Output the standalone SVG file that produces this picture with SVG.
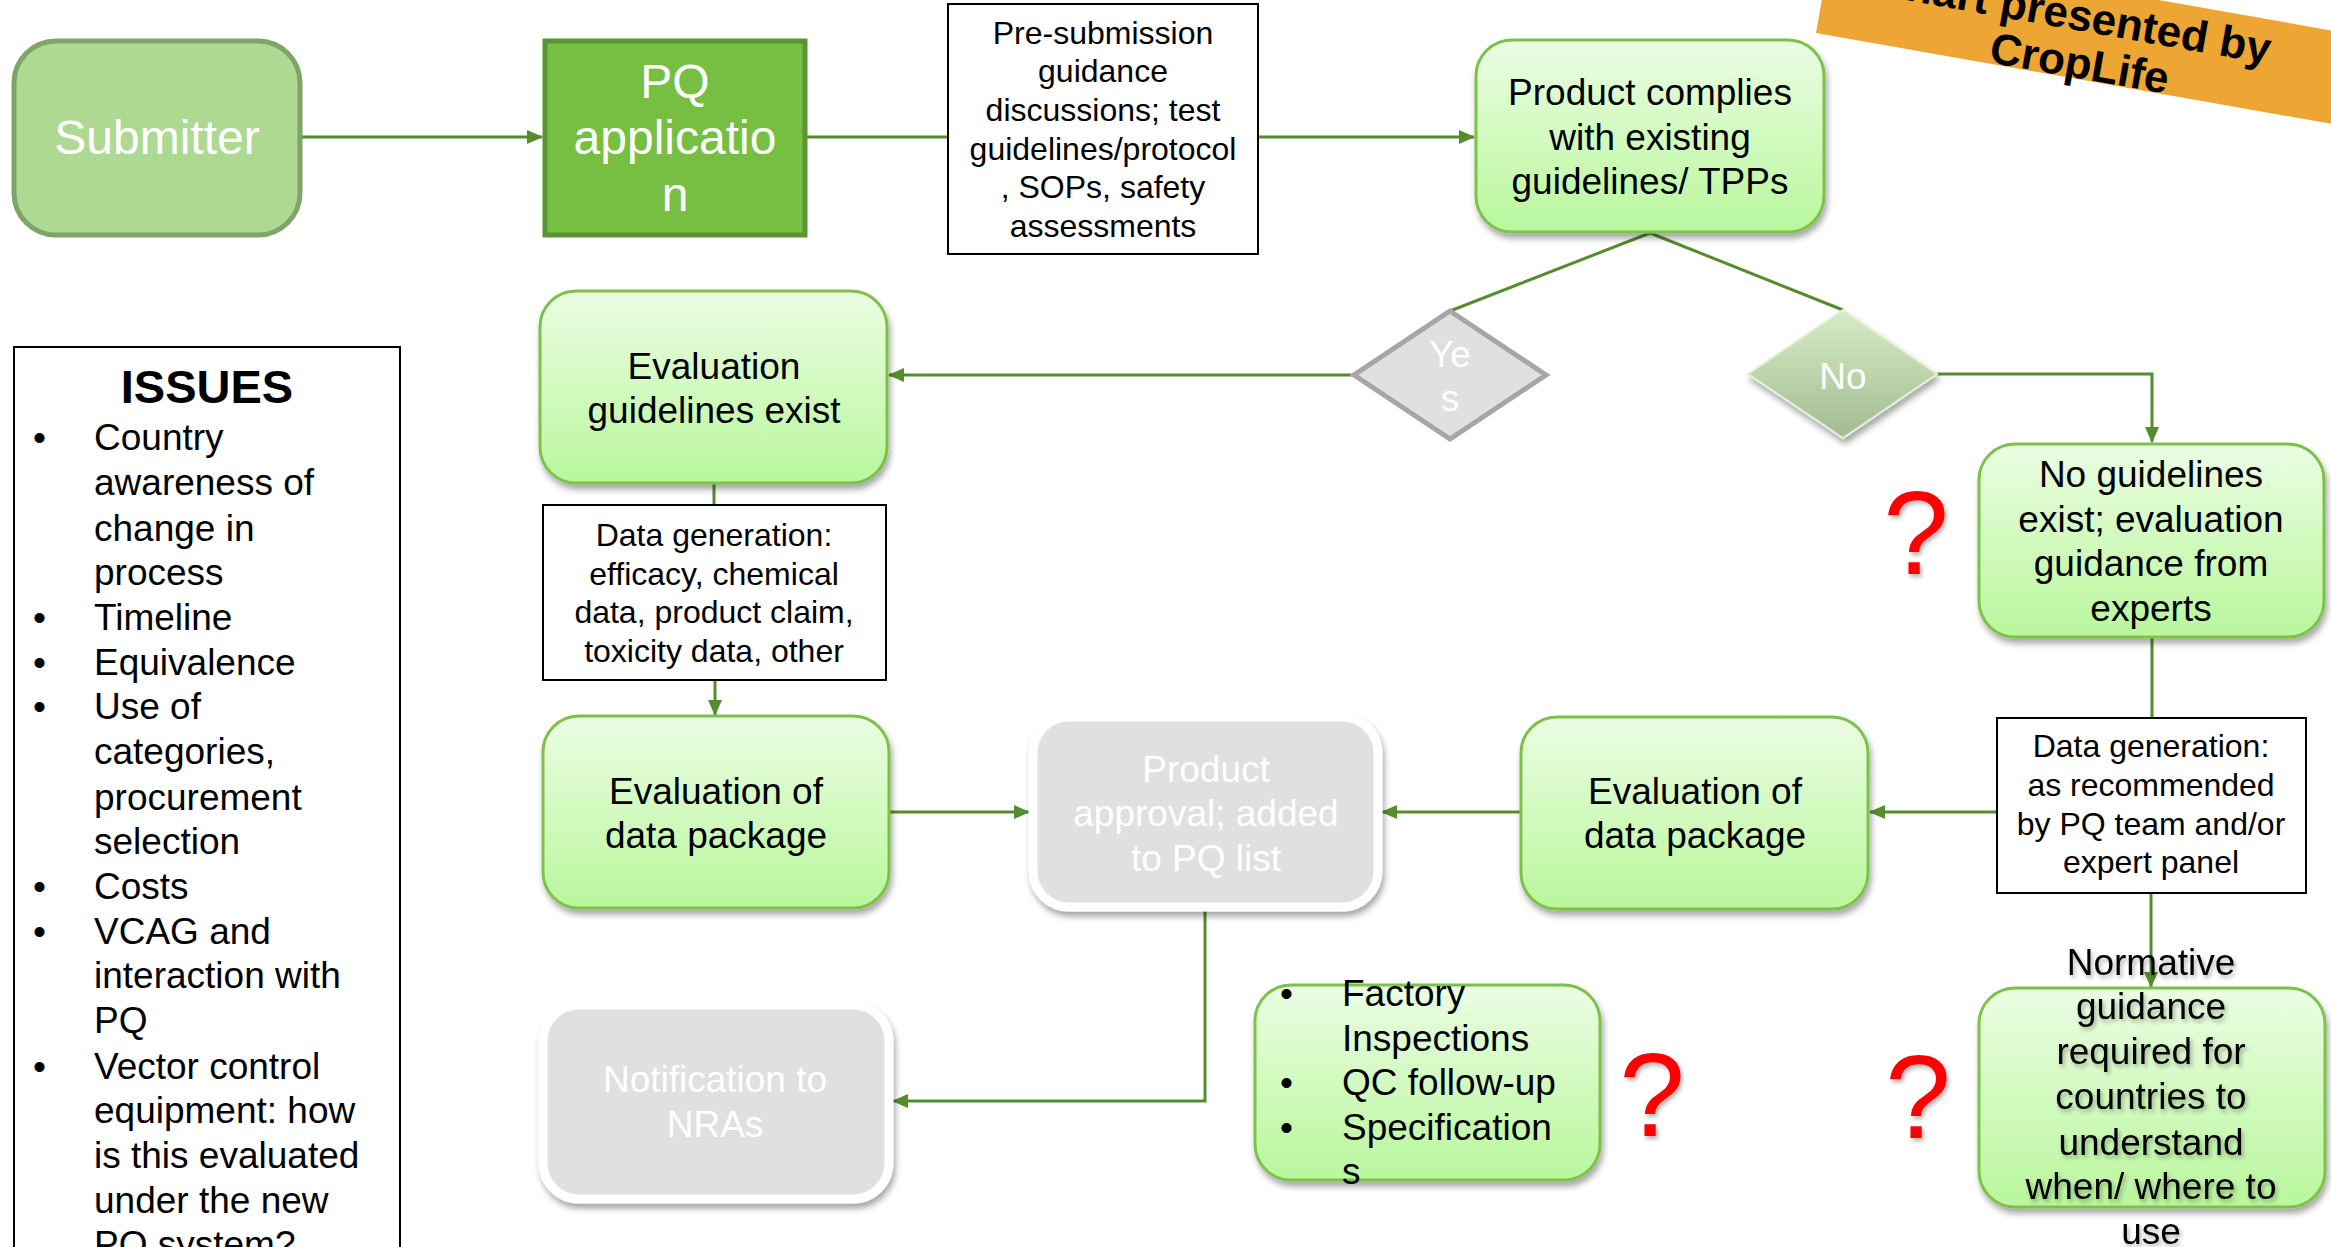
<svg xmlns="http://www.w3.org/2000/svg" width="2331" height="1247" viewBox="0 0 2331 1247">
<style>
.t{font-family:"Liberation Sans",Arial,sans-serif;text-anchor:middle;fill:#000}
.w{fill:#fff}
.s37{font-size:37px}
.s32{font-size:32px}
.s48{font-size:48px}
.gbox{fill:url(#gg);stroke:#7cc249;stroke-width:3;filter:url(#sh)}
.gray{fill:#e0e0e0;stroke:#fff;stroke-width:9;filter:url(#sh)}
.note{fill:#fff;stroke:#000;stroke-width:2}
.c{fill:none;stroke:#558d2e;stroke-width:3}
.q{font-family:"Liberation Sans",Arial,sans-serif;font-size:118px;fill:#f00;text-anchor:middle;filter:url(#tsh)}
.li{font-family:"Liberation Sans",Arial,sans-serif;font-size:37px;fill:#000}
</style>
<defs>
<linearGradient id="gg" x1="0" y1="0" x2="0" y2="1">
<stop offset="0" stop-color="#ebfde3"/>
<stop offset="1" stop-color="#b9f79c"/>
</linearGradient>
<linearGradient id="ng" x1="0" y1="0" x2="0" y2="1">
<stop offset="0" stop-color="#d5ecc6"/>
<stop offset="1" stop-color="#a3bb92"/>
</linearGradient>
<filter id="sh" x="-10%" y="-10%" width="125%" height="130%">
<feDropShadow dx="2" dy="5" stdDeviation="3" flood-color="#000" flood-opacity="0.35"/>
</filter>
<filter id="tsh" x="-20%" y="-20%" width="150%" height="150%">
<feDropShadow dx="2" dy="3" stdDeviation="2" flood-color="#000" flood-opacity="0.3"/>
</filter>
<marker id="ar" markerUnits="userSpaceOnUse" markerWidth="16" markerHeight="14" refX="15" refY="7" orient="auto">
<path d="M0,0 L16,7 L0,14 z" fill="#558d2e"/>
</marker>
</defs>
<rect width="2331" height="1247" fill="#fff"/>

<g id="connectors">
<path class="c" d="M300,137 H542" marker-end="url(#ar)"/>
<path class="c" d="M806,137 H948"/>
<path class="c" d="M1258,137 H1474" marker-end="url(#ar)"/>
<path class="c" d="M1650,233 L1450,311"/>
<path class="c" d="M1650,233 L1843,310"/>
<path class="c" d="M1354,375 H889" marker-end="url(#ar)"/>
<path class="c" d="M1937,374 H2152 V442" marker-end="url(#ar)"/>
<path class="c" d="M714,483 V505"/>
<path class="c" d="M715,680 V715" marker-end="url(#ar)"/>
<path class="c" d="M889,812 H1029" marker-end="url(#ar)"/>
<path class="c" d="M1521,812 H1382" marker-end="url(#ar)"/>
<path class="c" d="M1997,812 H1870" marker-end="url(#ar)"/>
<path class="c" d="M2152,637 V718"/>
<path class="c" d="M2151,893 V987" marker-end="url(#ar)"/>
<path class="c" d="M1205,911 V1101 H893" marker-end="url(#ar)"/>
</g>

<g id="submitter">
<rect x="14" y="41" width="286" height="194" rx="42" fill="#aed993" stroke="#7fa468" stroke-width="5"/>
<text class="t w s48" x="157" y="154">Submitter</text>
</g>

<g id="pq-application">
<rect x="545" y="41" width="260" height="194" fill="#77bf43" stroke="#5a9533" stroke-width="5"/>
<text class="t w s48" x="675" y="98">PQ</text>
<text class="t w s48" x="675" y="154">applicatio</text>
<text class="t w s48" x="675" y="211">n</text>
</g>

<g id="pre-submission">
<rect class="note" x="948" y="4" width="310" height="250"/>
<text class="t s32" x="1103" y="44">Pre-submission</text>
<text class="t s32" x="1103" y="82">guidance</text>
<text class="t s32" x="1103" y="121">discussions; test</text>
<text class="t s32" x="1103" y="160">guidelines/protocol</text>
<text class="t s32" x="1103" y="198">, SOPs, safety</text>
<text class="t s32" x="1103" y="237">assessments</text>
</g>

<g id="product-complies">
<rect class="gbox" x="1476" y="40" width="348" height="192" rx="36"/>
<text class="t s37" x="1650" y="105">Product complies</text>
<text class="t s37" x="1650" y="150">with existing</text>
<text class="t s37" x="1650" y="194">guidelines/ TPPs</text>
</g>

<g id="yes">
<polygon points="1450,311 1546,375 1450,439 1354,375" fill="#e0e0e0" stroke="#a6a6a6" stroke-width="5" stroke-linejoin="miter"/>
<text class="t w s37" x="1450" y="367">Ye</text>
<text class="t w s37" x="1450" y="411">s</text>
</g>

<g id="no">
<polygon points="1843,310 1937,374 1843,438 1748,374" fill="url(#ng)" stroke="#e2f1d6" stroke-width="2" filter="url(#sh)"/>
<text class="t w s37" x="1843" y="389">No</text>
</g>

<g id="eval-guidelines">
<rect class="gbox" x="540" y="291" width="347" height="192" rx="36"/>
<text class="t s37" x="714" y="379">Evaluation</text>
<text class="t s37" x="714" y="423">guidelines exist</text>
</g>

<g id="data-gen-left">
<rect class="note" x="543" y="505" width="343" height="175"/>
<text class="t s32" x="714" y="546">Data generation:</text>
<text class="t s32" x="714" y="585">efficacy, chemical</text>
<text class="t s32" x="714" y="623">data, product claim,</text>
<text class="t s32" x="714" y="662">toxicity data, other</text>
</g>

<g id="eval-data-left">
<rect class="gbox" x="543" y="716" width="346" height="192" rx="36"/>
<text class="t s37" x="716" y="804">Evaluation of</text>
<text class="t s37" x="716" y="848">data package</text>
</g>

<g id="product-approval">
<rect class="gray" x="1033" y="717" width="345" height="190" rx="36"/>
<text class="t w s37" x="1206" y="782">Product</text>
<text class="t w s37" x="1206" y="826">approval; added</text>
<text class="t w s37" x="1206" y="871">to PQ list</text>
</g>

<g id="eval-data-right">
<rect class="gbox" x="1521" y="717" width="347" height="192" rx="36"/>
<text class="t s37" x="1695" y="804">Evaluation of</text>
<text class="t s37" x="1695" y="848">data package</text>
</g>

<g id="data-gen-right">
<rect class="note" x="1997" y="718" width="309" height="175"/>
<text class="t s32" x="2151" y="757">Data generation:</text>
<text class="t s32" x="2151" y="796">as recommended</text>
<text class="t s32" x="2151" y="835">by PQ team and/or</text>
<text class="t s32" x="2151" y="873">expert panel</text>
</g>

<g id="no-guidelines">
<rect class="gbox" x="1979" y="444" width="345" height="193" rx="36"/>
<text class="t s37" x="2151" y="487">No guidelines</text>
<text class="t s37" x="2151" y="532">exist; evaluation</text>
<text class="t s37" x="2151" y="576">guidance from</text>
<text class="t s37" x="2151" y="621">experts</text>
</g>

<g id="normative">
<rect class="gbox" x="1979" y="988" width="346" height="219" rx="36"/>
<g filter="url(#tsh)">
<text class="t s37" x="2151" y="975">Normative</text>
<text class="t s37" x="2151" y="1019">guidance</text>
<text class="t s37" x="2151" y="1064">required for</text>
<text class="t s37" x="2151" y="1109">countries to</text>
<text class="t s37" x="2151" y="1155">understand</text>
<text class="t s37" x="2151" y="1199">when/ where to</text>
<text class="t s37" x="2151" y="1244">use</text>
</g>
</g>

<g id="factory">
<rect class="gbox" x="1255" y="985" width="345" height="195" rx="36"/>
<text class="li" x="1280" y="1006">•</text>
<text class="li" x="1342" y="1006">Factory</text>
<text class="li" x="1342" y="1051">Inspections</text>
<text class="li" x="1280" y="1095">•</text>
<text class="li" x="1342" y="1095">QC follow-up</text>
<text class="li" x="1280" y="1140">•</text>
<text class="li" x="1342" y="1140">Specification</text>
<text class="li" x="1342" y="1184">s</text>
</g>

<g id="notification">
<rect class="gray" x="543" y="1005" width="346" height="194" rx="36"/>
<text class="t w s37" x="715" y="1092">Notification to</text>
<text class="t w s37" x="715" y="1137">NRAs</text>
</g>

<g id="question-marks">
<text class="q" x="1916" y="574">?</text>
<text class="q" x="1652" y="1136">?</text>
<text class="q" x="1918" y="1138">?</text>
</g>

<g id="issues">
<rect x="14" y="347" width="386" height="930" fill="#fff" stroke="#000" stroke-width="2"/>
<text x="207" y="403" style="font-family:'Liberation Sans',Arial,sans-serif;font-size:47px;font-weight:bold;text-anchor:middle">ISSUES</text>
<text class="li" x="33" y="450">•</text><text class="li" x="94" y="450">Country</text>
<text class="li" x="94" y="495">awareness of</text>
<text class="li" x="94" y="541">change in</text>
<text class="li" x="94" y="585">process</text>
<text class="li" x="33" y="630">•</text><text class="li" x="94" y="630">Timeline</text>
<text class="li" x="33" y="675">•</text><text class="li" x="94" y="675">Equivalence</text>
<text class="li" x="33" y="719">•</text><text class="li" x="94" y="719">Use of</text>
<text class="li" x="94" y="764">categories,</text>
<text class="li" x="94" y="810">procurement</text>
<text class="li" x="94" y="854">selection</text>
<text class="li" x="33" y="899">•</text><text class="li" x="94" y="899">Costs</text>
<text class="li" x="33" y="944">•</text><text class="li" x="94" y="944">VCAG and</text>
<text class="li" x="94" y="988">interaction with</text>
<text class="li" x="94" y="1033">PQ</text>
<text class="li" x="33" y="1079">•</text><text class="li" x="94" y="1079">Vector control</text>
<text class="li" x="94" y="1123">equipment: how</text>
<text class="li" x="94" y="1168">is this evaluated</text>
<text class="li" x="94" y="1213">under the new</text>
<text class="li" x="94" y="1257">PQ system?</text>
</g>

<g id="banner" transform="rotate(10 1816 33)">
<rect x="1816" y="-59" width="700" height="92" fill="#eda534"/>
<text x="2066" y="-15" style="font-family:'Liberation Sans',Arial,sans-serif;font-size:44px;font-weight:bold;text-anchor:middle">Chart presented by</text>
<text x="2081" y="32" style="font-family:'Liberation Sans',Arial,sans-serif;font-size:44px;font-weight:bold;text-anchor:middle">CropLife</text>
</g>
</svg>
